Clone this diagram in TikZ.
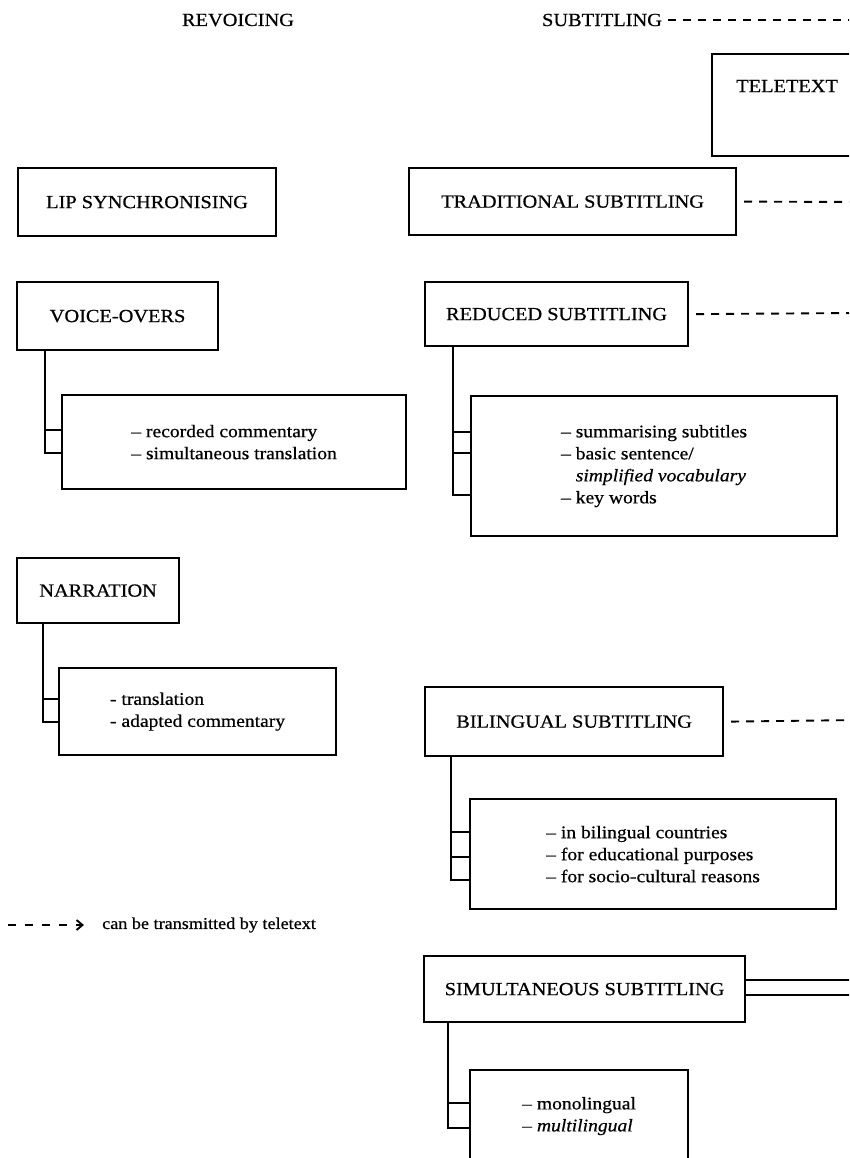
\documentclass[tikz,border=0pt]{standalone}
\usepackage{fontspec}
\setmainfont{Liberation Serif}[FakeStretch=1.1,FakeBold=0.6]
\usetikzlibrary{arrows.meta}
\tikzset{
  x=1pt, y=-1pt,
  hdr/.style={inner sep=0pt, font=\fontsize{18.5}{22}\selectfont},
  headbox/.style={draw, line width=2.2pt, inner sep=0pt, anchor=north west, font=\fontsize{18.5}{22}\selectfont},
  subbox/.style={draw, line width=2.2pt, inner sep=0pt, anchor=north west, align=left, font=\fontsize{17.8}{22}\selectfont},
  trunk/.style={line width=2.6pt},
  branch/.style={line width=2pt},
  teleline/.style={line width=1.9pt, dash pattern=on 8pt off 7pt},
  legendtxt/.style={inner sep=0pt, anchor=west, font=\fontsize{16.5}{20}\selectfont}
}
\begin{document}
\begin{tikzpicture}
\useasboundingbox (0,0) rectangle (849,1158);
\clip (0,0) rectangle (849,1158);
% headers
\node[hdr] (rev) at (238,20) {REVOICING};
\node[hdr] (sub) at (602,20) {SUBTITLING};
\coordinate (e0) at (860,20);
\draw[teleline] ([xshift=6pt]sub.east) -- (e0);
% teletext
\node[headbox, minimum width=150pt, minimum height=102pt, text height=38pt, text depth=64pt] (tt) at (711,53) {TELETEXT};
% left column
\node[headbox, minimum width=258pt, minimum height=68pt] (lip) at (17,167) {LIP SYNCHRONISING};
\node[headbox, minimum width=201pt, minimum height=68pt] (vo) at (16,281) {VOICE-OVERS};
\node[subbox, minimum width=344pt, minimum height=94pt] (vob) at (61,394) {-- recorded commentary\\-- simultaneous translation};
\draw[trunk] ([xshift=29pt]vo.south west) coordinate (vt) -- (vt |- 0,453) -- (vob.west |- 0,453);
\draw[branch] (vt |- 0,430) -- (vob.west |- 0,430);

\node[headbox, minimum width=162pt, minimum height=65pt] (na) at (16,557) {NARRATION};
\node[subbox, minimum width=277pt, minimum height=87pt] (nab) at (58,667) {- translation\\- adapted commentary};
\draw[trunk] ([xshift=27pt]na.south west) coordinate (nt) -- (nt |- 0,722) -- (nab.west |- 0,722);
\draw[branch] (nt |- 0,699) -- (nab.west |- 0,699);

% legend
\coordinate (l0) at (8,925);
\coordinate (l1) at (84,925);
\draw[line width=1.9pt, dash pattern=on 8pt off 9pt, -{Straight Barb[length=6pt,width=10pt]}] (l0) -- (l1);
\node[legendtxt] (leg) at (102,925) {can be transmitted by teletext};

% right column
\node[headbox, minimum width=327pt, minimum height=67pt] (trad) at (408,167) {TRADITIONAL SUBTITLING};
\coordinate (e1) at (860,202);
\draw[teleline] ([xshift=7pt]trad.east) -- (e1);

\node[headbox, minimum width=263pt, minimum height=64pt] (red) at (424,281) {REDUCED SUBTITLING};
\coordinate (e2) at (860,313);
\draw[teleline] ([xshift=7pt]red.east) -- (e2);
\node[subbox, minimum width=366pt, minimum height=140pt] (rdb) at (470,395) {-- summarising subtitles\\-- basic sentence/\\\hphantom{-- }\textit{simplified vocabulary}\\-- key words};
\draw[trunk] ([xshift=29pt]red.south west) coordinate (rt) -- (rt |- 0,495) -- (rdb.west |- 0,495);
\draw[branch] (rt |- 0,432) -- (rdb.west |- 0,432);
\draw[branch] (rt |- 0,453) -- (rdb.west |- 0,453);

\node[headbox, minimum width=298pt, minimum height=69pt] (bil) at (424,686) {BILINGUAL SUBTITLING};
\coordinate (e3) at (860,720);
\draw[teleline] ([xshift=7pt]bil.east) -- (e3);
\node[subbox, minimum width=366pt, minimum height=110pt] (bib) at (469,798) {-- in bilingual countries\\-- for educational purposes\\-- for socio-cultural reasons};
\draw[trunk] ([xshift=27pt]bil.south west) coordinate (bt) -- (bt |- 0,880) -- (bib.west |- 0,880);
\draw[branch] (bt |- 0,832) -- (bib.west |- 0,832);
\draw[branch] (bt |- 0,857) -- (bib.west |- 0,857);

\node[headbox, minimum width=321pt, minimum height=66pt] (sim) at (423,955) {SIMULTANEOUS SUBTITLING};
\coordinate (e4) at (860,980);
\coordinate (e5) at (860,995);
\draw[branch] (sim.east |- 0,980) -- (e4);
\draw[branch] (sim.east |- 0,995) -- (e5);
\node[subbox, minimum width=218pt, minimum height=92pt] (sib) at (469,1069) {-- monolingual\\-- \textit{multilingual}};
\draw[trunk] ([xshift=25pt]sim.south west) coordinate (st) -- (st |- 0,1128) -- (sib.west |- 0,1128);
\draw[branch] (st |- 0,1103) -- (sib.west |- 0,1103);
\end{tikzpicture}
\end{document}
